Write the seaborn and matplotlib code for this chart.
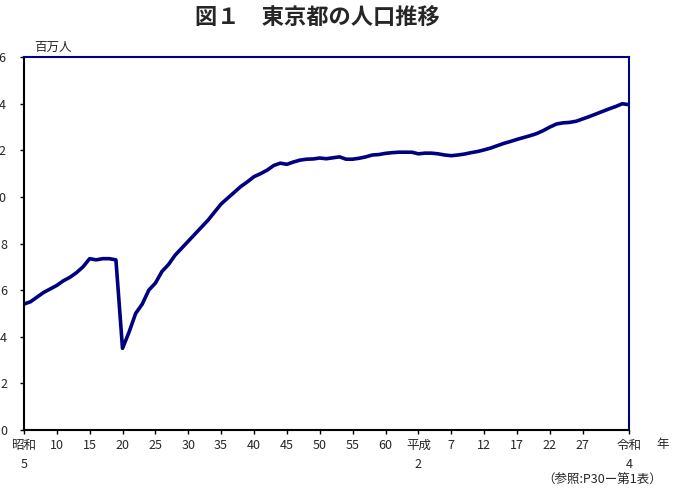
import pandas as pd
import matplotlib.pyplot as plt
import seaborn as sns

years = list(range(1930, 2023))
population = [5.4, 5.5, 5.7, 5.9, 6.05, 6.2, 6.4, 6.55, 6.75, 7.0,
              7.35, 7.3, 7.35, 7.35, 7.3, 3.5, 4.2, 5.0, 5.4, 6.0,
              6.3, 6.8, 7.1, 7.5, 7.8, 8.1, 8.4, 8.7, 9.0, 9.35,
              9.7, 9.95, 10.2, 10.45, 10.65, 10.87, 11.0, 11.15, 11.35, 11.45,
              11.4, 11.5, 11.58, 11.62, 11.63, 11.67, 11.64, 11.68, 11.72, 11.62,
              11.62, 11.66, 11.72, 11.8, 11.82, 11.87, 11.9, 11.92, 11.92, 11.92,
              11.85, 11.88, 11.88, 11.85, 11.8, 11.77, 11.8, 11.84, 11.9, 11.95,
              12.02, 12.1, 12.2, 12.3, 12.38, 12.47, 12.55, 12.63, 12.72, 12.85,
              13.0, 13.13, 13.18, 13.2, 13.25, 13.35, 13.45, 13.56, 13.67, 13.78,
              13.88, 14.0, 13.96]
tick_years = [1930, 1935, 1940, 1945, 1950, 1955, 1960, 1965, 1970, 1975, 1980, 1985,
              1990, 1995, 2000, 2005, 2010, 2015, 2022]
tick_labels = ['昭和\n5', '10', '15', '20', '25', '30', '35', '40', '45', '50', '55', '60',
               '平成\n2', '7', '12', '17', '22', '27', '令和\n4']
y_ticks = [0, 2, 4, 6, 8, 10, 12, 14, 16]

sns.set_style('white')
plt.rcParams['font.family'] = ['Noto Sans CJK JP', 'DejaVu Sans']

df = pd.DataFrame({'year': years, 'pop': population})
navy = '#000080'

fig = plt.figure(figsize=(6.82, 4.97), dpi=100)
ax = fig.add_axes([0.035, 0.135, 0.887, 0.75])
sns.lineplot(data=df, x='year', y='pop', color=navy, linewidth=2.6, ax=ax)
ax.set_xlim(1930, 2022)
ax.set_ylim(0, 16)
ax.set_xticks(tick_years)
ax.set_xticklabels(tick_labels, fontsize=9, linespacing=1.6, va='top')
ax.set_yticks(y_ticks)
# y labels are clipped by the left edge in the original
ax.set_yticklabels([str(v) for v in y_ticks], fontsize=9)
ax.tick_params(axis='y', direction='out', length=3, pad=9, color='black', width=1, left=True)
ax.tick_params(axis='x', direction='out', length=3, color='black', width=1, bottom=True)
for s in ax.spines.values():
    s.set_color(navy)
    s.set_linewidth(1.5)
ax.spines['left'].set_color('black')
ax.spines['bottom'].set_color('black')
ax.set_xlabel('')
ax.set_ylabel('')

fig.text(0.466, 0.962, '図１　東京都の人口推移', ha='center', va='center', fontsize=16, fontweight='bold')
fig.text(0.05, 0.905, '百万人', ha='left', va='center', fontsize=9)
fig.text(0.962, 0.105, '年', ha='left', va='center', fontsize=9)
fig.text(0.97, 0.02, '（参照:P30ー第1表）', ha='right', va='bottom', fontsize=9)

fig.savefig('out.png', dpi=100)
